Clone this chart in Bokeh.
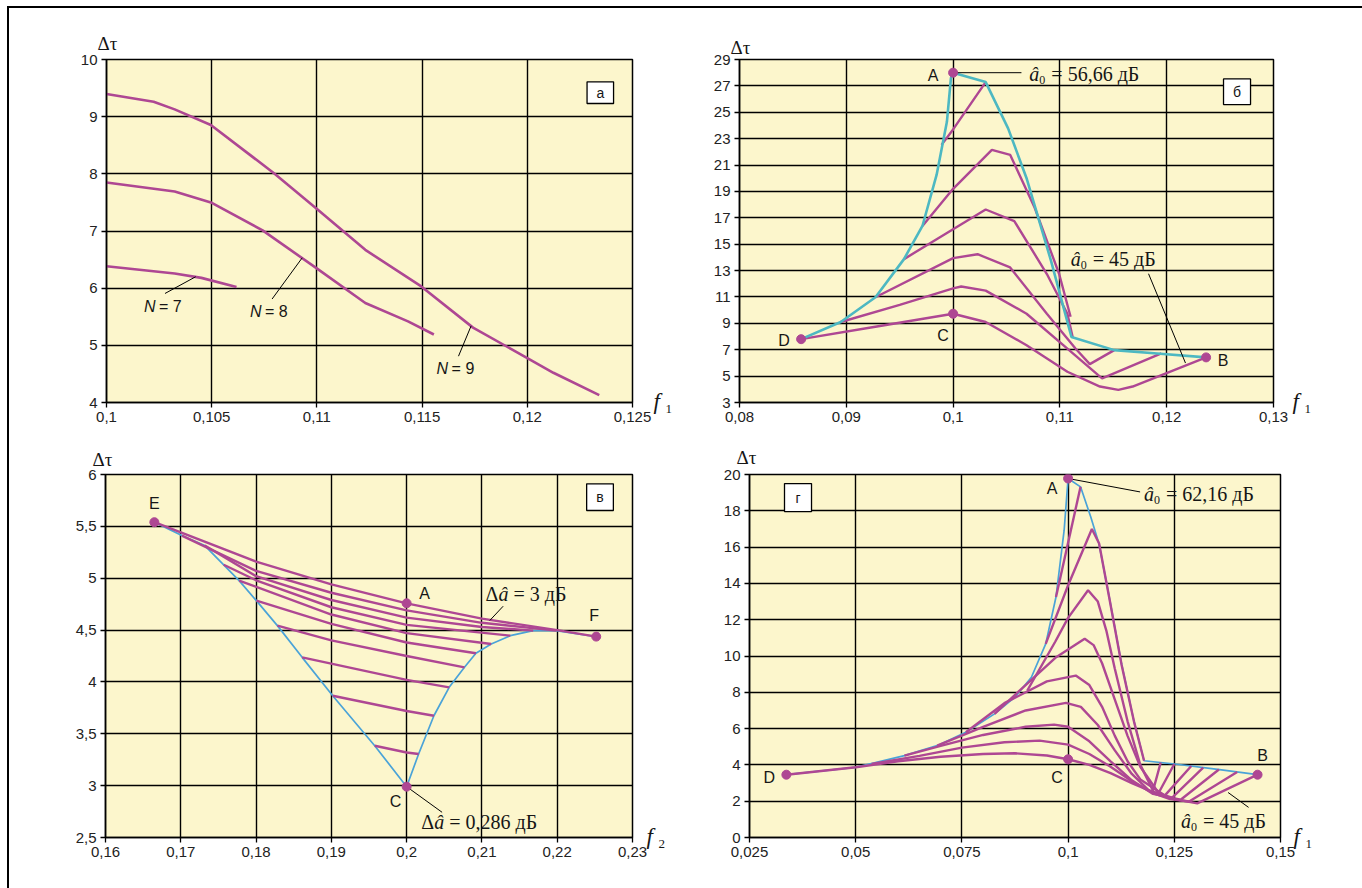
from bokeh.plotting import figure
from bokeh.models import Range1d, FixedTicker, Label
from bokeh.layouts import column, row
from bokeh.embed import file_html
from bokeh.resources import INLINE

BG = "#FCF6CC"
MAG = "#AE4793"
CYAN = "#4DB8C2"
BLUE = "#4AA3D8"
SANS = "Liberation Sans"
SERIF = "Liberation Serif"
INK = "#161616"

# ---------------- panel а ----------------
a_xticks = [0.1, 0.105, 0.11, 0.115, 0.12, 0.125]
a_xlabels = ["0,1", "0,105", "0,11", "0,115", "0,12", "0,125"]
a_yticks = [4, 5, 6, 7, 8, 9, 10]
a_ylabels = ["4", "5", "6", "7", "8", "9", "10"]
a_n9_x = [0.1, 0.10224, 0.10324, 0.10496, 0.10796, 0.10996, 0.1123, 0.11496, 0.11742, 0.11996, 0.12124, 0.12342]
a_n9_y = [9.395, 9.262, 9.128, 8.855, 8.01, 7.40, 6.67, 6.03, 5.31, 4.785, 4.52, 4.13]
a_n8_x = [0.1, 0.10324, 0.10496, 0.10742, 0.10996, 0.1123, 0.11433, 0.11556]
a_n8_y = [7.849, 7.69, 7.5, 7.01, 6.355, 5.74, 5.42, 5.19]
a_n7_x = [0.1, 0.10324, 0.10451, 0.10618]
a_n7_y = [6.384, 6.256, 6.18, 6.02]
a_lab_text = ["7", "8", "9"]
a_lab_x = [0.10178, 0.10682, 0.11569]
a_lab_y = [5.674, 5.587, 4.599]
a_lead_xs = [[0.10278, 0.10424], [0.10787, 0.1093], [0.11673, 0.11733]]
a_lead_ys = [[5.907, 6.2], [5.81, 6.53], [4.81, 5.34]]
a_box = [0.12284, 0.1241, 9.23, 9.61]

# ---------------- panel б ----------------
b_xticks = [0.08, 0.09, 0.1, 0.11, 0.12, 0.13]
b_xlabels = ["0,08", "0,09", "0,1", "0,11", "0,12", "0,13"]
b_yticks = [3, 5, 7, 9, 11, 13, 15, 17, 19, 21, 23, 25, 27, 29]
b_ylabels = [str(v) for v in b_yticks]
b_env_x = [0.08577, 0.08948, 0.09273, 0.0954, 0.09713, 0.09846, 0.09942, 0.0998, 0.1,
           0.10305, 0.10515, 0.10687, 0.10917, 0.11108, 0.11509, 0.1191, 0.12369]
b_env_y = [7.8, 9.1, 10.98, 13.87, 16.38, 20.27, 24.28, 27.6, 28.0,
           27.29, 23.78, 20.02, 13.74, 7.97, 6.97, 6.72, 6.42]
b_curves_x = [
    [0.08577, 0.093, 0.1, 0.10305, 0.10688, 0.1107, 0.11375, 0.11547, 0.11681, 0.12369],
    [0.08948, 0.095, 0.1, 0.10076, 0.10305, 0.10688, 0.1107, 0.11356, 0.11395, 0.1195],
    [0.09273, 0.1, 0.10229, 0.10534, 0.10878, 0.11146, 0.1128, 0.11509],
    [0.0954, 0.1, 0.10305, 0.10573, 0.10878, 0.1107, 0.1112],
    [0.09713, 0.1, 0.10363, 0.10535, 0.10764, 0.10993, 0.111],
    [0.09892, 0.1, 0.10305],
]
b_curves_y = [
    [7.8, 8.78, 9.73, 9.1, 7.34, 5.33, 4.21, 3.96, 4.21, 6.42],
    [9.1, 10.4, 11.65, 11.79, 11.48, 9.73, 7.09, 5.09, 4.83, 6.72],
    [10.98, 13.94, 14.24, 13.24, 9.73, 7.09, 5.91, 6.97],
    [13.87, 16.13, 17.63, 16.75, 12.74, 9.73, 7.95],
    [16.38, 19.2, 22.15, 21.77, 17.76, 12.74, 9.5],
    [22.53, 23.7, 27.29],
]
b_pt_name = ["A", "B", "C", "D"]
b_pt_x = [0.1, 0.12369, 0.1, 0.08577]
b_pt_y = [28.0, 6.42, 9.73, 7.8]
b_pt_dx = [-20, 17, -10, -17]
b_pt_dy = [-3, -3, -22, -1]
b_lead_xs = [[0.1, 0.1064], [0.1183, 0.12176]]
b_lead_ys = [[28.0, 28.0], [12.76, 5.99]]
b_ann = [("56,66", 0.10714, 27.93), ("45", 0.11102, 13.91)]
b_box = [0.12532, 0.12785, 25.58, 27.53]

# ---------------- panel в ----------------
c_xticks = [0.16, 0.17, 0.18, 0.19, 0.2, 0.21, 0.22, 0.23]
c_xlabels = ["0,16", "0,17", "0,18", "0,19", "0,2", "0,21", "0,22", "0,23"]
c_yticks = [2.5, 3, 3.5, 4, 4.5, 5, 5.5, 6]
c_ylabels = ["2,5", "3", "3,5", "4", "4,5", "5", "5,5", "6"]
c_env_x = [0.16649, 0.17014, 0.17319, 0.17775, 0.18004, 0.18283, 0.18612, 0.19018, 0.19576, 0.2,
           0.20159, 0.20362, 0.20565, 0.20768, 0.2092, 0.21123, 0.21377, 0.21681, 0.21986, 0.22518]
c_env_y = [5.54, 5.411, 5.315, 4.977, 4.784, 4.543, 4.237, 3.867, 3.385, 2.99,
           3.305, 3.674, 3.948, 4.141, 4.276, 4.366, 4.446, 4.495, 4.495, 4.437]
c_hatch_x = [
    [0.16649, 0.18, 0.19, 0.2, 0.21, 0.22, 0.22518],
    [0.17014, 0.18, 0.19, 0.2, 0.21, 0.21986],
    [0.17319, 0.18, 0.19, 0.2, 0.21, 0.21681],
    [0.1757, 0.18, 0.19, 0.2, 0.21377],
    [0.17775, 0.19, 0.2, 0.21123],
    [0.18004, 0.19, 0.2, 0.2092],
    [0.18283, 0.19, 0.2, 0.20768],
    [0.18612, 0.2, 0.20565],
    [0.19018, 0.2, 0.20362],
    [0.19576, 0.2, 0.20159],
]
c_hatch_y = [
    [5.54, 5.16, 4.94, 4.758, 4.61, 4.5, 4.437],
    [5.411, 5.07, 4.86, 4.69, 4.57, 4.495],
    [5.315, 5.02, 4.79, 4.62, 4.53, 4.495],
    [5.13, 4.98, 4.72, 4.55, 4.446],
    [4.977, 4.65, 4.47, 4.366],
    [4.784, 4.56, 4.38, 4.276],
    [4.543, 4.40, 4.25, 4.141],
    [4.237, 4.02, 3.948],
    [3.867, 3.72, 3.674],
    [3.385, 3.32, 3.305],
]
c_pt_name = ["E", "A", "F", "C"]
c_pt_x = [0.16649, 0.2, 0.22518, 0.2]
c_pt_y = [5.54, 4.758, 4.437, 2.99]
c_pt_dx = [0, 18, -2, -11]
c_pt_dy = [19, 10, 21, -15]
c_lead_xs = [[0.21105, 0.21282], [0.2, 0.20471]]
c_lead_ys = [[4.593, 4.73], [2.99, 2.743]]
c_ann = [("3", 0.21047, 4.848), ("0,286", 0.20193, 2.647)]
c_box = [0.22391, 0.22746, 5.653, 5.91]

# ---------------- panel г ----------------
d_xticks = [0.025, 0.05, 0.075, 0.1, 0.125, 0.15]
d_xlabels = ["0,025", "0,05", "0,075", "0,1", "0,125", "0,15"]
d_yticks = [0, 2, 4, 6, 8, 10, 12, 14, 16, 18, 20]
d_ylabels = [str(v) for v in d_yticks]
d_env_x = [0.03368, 0.04988, 0.06146, 0.06917, 0.07593, 0.08268, 0.0875, 0.09136, 0.09473, 0.09715,
           0.09907, 0.1, 0.10293, 0.10534, 0.10727, 0.10968, 0.11258, 0.11547, 0.11788, 0.12512,
           0.13476, 0.1446]
d_env_y = [3.46, 3.86, 4.51, 5.06, 5.8, 6.81, 7.73, 8.83, 10.67, 13.25,
           16.93, 19.78, 19.32, 17.66, 16.19, 13.25, 9.57, 6.44, 4.23, 4.05,
           3.77, 3.46]
d_curves_x = [
    [0.03368, 0.05, 0.06, 0.07, 0.08, 0.0875, 0.095, 0.1, 0.105, 0.11, 0.115, 0.12, 0.125, 0.1304, 0.1446],
    [0.05374, 0.065, 0.075, 0.085, 0.0933, 0.1, 0.105, 0.11, 0.115, 0.12, 0.124, 0.1285, 0.1398],
    [0.06146, 0.07, 0.08, 0.09, 0.0967, 0.1, 0.105, 0.11, 0.115, 0.12, 0.1265, 0.1355],
    [0.06917, 0.08, 0.09, 0.0995, 0.103, 0.107, 0.111, 0.115, 0.119, 0.1245, 0.1318],
    [0.07593, 0.085, 0.095, 0.1018, 0.105, 0.108, 0.111, 0.114, 0.117, 0.1228, 0.129],
    [0.08268, 0.09, 0.097, 0.1039, 0.106, 0.108, 0.111, 0.114, 0.117, 0.1213, 0.125],
    [0.0904, 0.097, 0.1, 0.1047, 0.107, 0.109, 0.111, 0.114, 0.117, 0.12, 0.1218],
    [0.09473, 0.1, 0.1056, 0.1073, 0.1097, 0.1126, 0.1155, 0.11788],
    [0.09715, 0.10293],
]
d_curves_y = [
    [3.46, 3.87, 4.2, 4.45, 4.6, 4.64, 4.52, 4.31, 4.0, 3.55, 3.0, 2.5, 2.12, 1.88, 3.46],
    [4.05, 4.5, 4.95, 5.25, 5.34, 5.12, 4.6, 3.9, 3.1, 2.45, 2.12, 1.98, 3.61],
    [4.51, 5.05, 5.65, 6.1, 6.22, 6.1, 5.3, 4.2, 3.15, 2.4, 2.08, 3.75],
    [5.06, 6.1, 7.0, 7.42, 7.2, 6.2, 4.8, 3.5, 2.6, 2.2, 3.85],
    [5.8, 7.4, 8.6, 8.92, 8.4, 7.2, 5.6, 4.2, 3.2, 2.32, 3.94],
    [6.81, 8.4, 9.9, 10.95, 10.6, 9.6, 7.6, 5.6, 3.9, 2.45, 4.05],
    [8.1, 10.8, 12.1, 13.62, 13.0, 11.4, 9.3, 6.4, 4.0, 2.58, 4.13],
    [10.67, 13.9, 17.0, 16.2, 13.2, 9.5, 6.4, 4.23],
    [13.25, 19.32],
]
d_pt_name = ["A", "B", "C", "D"]
d_pt_x = [0.1, 0.1446, 0.1, 0.03368]
d_pt_y = [19.78, 3.46, 4.31, 3.46]
d_pt_dx = [-16, 5, -11, -17]
d_pt_dy = [-10, 19, -18, -3]
d_lead_xs = [[0.1, 0.11695], [0.13766, 0.14248]]
d_lead_ys = [[19.78, 19.04], [2.48, 1.66]]
d_ann = [("62,16", 0.11788, 18.95), ("45", 0.12656, 0.92)]
d_box = [0.03324, 0.0396, 17.96, 19.5]


def make_panel(xr, yr, xt, xl, yt, yl, w, h, bl, br, bt, bb):
    p = figure(width=w, height=h, x_range=Range1d(*xr), y_range=Range1d(*yr),
               min_border_left=bl, min_border_right=br, min_border_top=bt, min_border_bottom=bb,
               output_backend="svg", toolbar_location=None, background_fill_color=BG,
               border_fill_color=None, outline_line_color="black", outline_line_width=1.5)
    for ax, ticks, labels in ((p.xaxis[0], xt, xl), (p.yaxis[0], yt, yl)):
        ax.ticker = FixedTicker(ticks=ticks)
        ax.major_label_overrides = dict(zip(ticks, labels))
        ax.axis_line_color = "black"
        ax.axis_line_width = 1.5
        ax.major_tick_line_color = "black"
        ax.major_tick_line_width = 1.3
        ax.major_tick_in = 0
        ax.major_tick_out = 5
        ax.minor_tick_line_color = None
        ax.major_label_text_font = SANS
        ax.major_label_text_font_size = "15px"
        ax.major_label_text_color = "#222222"
        ax.major_label_standoff = 4
    p.xgrid.ticker = FixedTicker(ticks=xt)
    p.ygrid.ticker = FixedTicker(ticks=yt)
    p.grid.grid_line_color = "black"
    p.grid.grid_line_width = 1.4
    p.grid.grid_line_alpha = 1.0
    return p


def lab(p, x, y, text, font=SANS, size=16, style="normal", dx=0, dy=0, align="center"):
    p.add_layout(Label(x=x, y=y, text=text, text_font=font, text_font_size=f"{size}px",
                       text_font_style=style, x_offset=dx, y_offset=dy, text_align=align,
                       text_baseline="middle", text_color=INK))


def side_lab(p, side, x, y, text, font=SERIF, size=17, style="normal", align="center"):
    # screen coordinates relative to the side panel next to the frame
    p.add_layout(Label(x=x, y=y, x_units="screen", y_units="screen", text=text,
                       text_font=font, text_font_size=f"{size}px", text_font_style=style,
                       text_align=align, text_baseline="middle", text_color=INK), side)


def axis_titles(p, xsym, fx_dx, dt_dx, dt_dy):
    side_lab(p, "above", dt_dx, dt_dy, "Δτ", size=19)
    side_lab(p, "right", fx_dx, 1, "f", size=23, style="italic", align="left")
    side_lab(p, "right", fx_dx + 6, -6, xsym, size=13, align="left")


def boxed(p, box, letter):
    p.quad(left=[box[0]], right=[box[1]], bottom=[box[2]], top=[box[3]],
           fill_color="white", line_color="black", line_width=1.3)
    lab(p, (box[0] + box[1]) / 2, (box[2] + box[3]) / 2, letter, size=14)


def a0_note(p, value, x, y):
    lab(p, x, y, "â", font=SERIF, size=20, style="italic", align="left")
    lab(p, x, y, "0", font=SERIF, size=12, dx=10, dy=-6, align="left")
    lab(p, x, y, "= " + value + " дБ", font=SERIF, size=20, dx=22, align="left")


def da_note(p, value, x, y):
    lab(p, x, y, "Δ", font=SERIF, size=20, align="left")
    lab(p, x, y, "â", font=SERIF, size=20, style="italic", dx=13, align="left")
    lab(p, x, y, "= " + value + " дБ", font=SERIF, size=20, dx=28, align="left")


def points(p, names, xs, ys, dxs, dys):
    p.scatter(xs, ys, size=9, color=MAG)
    for n, x, y, dx, dy in zip(names, xs, ys, dxs, dys):
        lab(p, x, y, n, size=16, dx=dx, dy=dy)


# ---- panel а
pa = make_panel((0.1, 0.125), (4, 10), a_xticks, a_xlabels, a_yticks, a_ylabels,
                690, 440, 106, 58, 59, 38)
for xs, ys in ((a_n9_x, a_n9_y), (a_n8_x, a_n8_y), (a_n7_x, a_n7_y)):
    pa.line(xs, ys, line_color=MAG, line_width=2.6)
pa.multi_line(a_lead_xs, a_lead_ys, line_color="black", line_width=1)
for t, x, y in zip(a_lab_text, a_lab_x, a_lab_y):
    lab(pa, x, y, "N", size=16, style="italic", align="left")
    lab(pa, x, y, "= " + t, size=16, dx=15, align="left")
boxed(pa, a_box, "а")
axis_titles(pa, "1", 21, 1, 16)

# ---- panel б
pb = make_panel((0.08, 0.13), (3, 29), b_xticks, b_xlabels, b_yticks, b_ylabels,
                672, 440, 49, 89, 57, 38)
pb.multi_line(b_curves_x, b_curves_y, line_color=MAG, line_width=2.4)
pb.line(b_env_x, b_env_y, line_color=CYAN, line_width=2.6)
pb.multi_line(b_lead_xs, b_lead_ys, line_color="black", line_width=1)
points(pb, b_pt_name, b_pt_x, b_pt_y, b_pt_dx, b_pt_dy)
for v, x, y in b_ann:
    a0_note(pb, v, x, y)
boxed(pb, b_box, "б")
axis_titles(pb, "1", 19, 1, 12)

# ---- panel в
pc = make_panel((0.16, 0.23), (2.5, 6), c_xticks, c_xlabels, c_yticks, c_ylabels,
                690, 448, 105, 58, 33, 51)
pc.line(c_env_x, c_env_y, line_color=BLUE, line_width=1.7)
pc.multi_line(c_hatch_x, c_hatch_y, line_color=MAG, line_width=2.4)
pc.multi_line(c_lead_xs, c_lead_ys, line_color="black", line_width=1)
points(pc, c_pt_name, c_pt_x, c_pt_y, c_pt_dx, c_pt_dy)
for v, x, y in c_ann:
    da_note(pc, v, x, y)
boxed(pc, c_box, "в")
axis_titles(pc, "2", 14, -3, 15)

# ---- panel г
pd_ = make_panel((0.025, 0.15), (0, 20), d_xticks, d_xlabels, d_yticks, d_ylabels,
                 672, 448, 59, 82, 34, 51)
pd_.line(d_env_x, d_env_y, line_color=BLUE, line_width=1.7)
pd_.multi_line(d_curves_x, d_curves_y, line_color=MAG, line_width=2.4)
pd_.multi_line(d_lead_xs, d_lead_ys, line_color="black", line_width=1)
points(pd_, d_pt_name, d_pt_x, d_pt_y, d_pt_dx, d_pt_dy)
for v, x, y in d_ann:
    a0_note(pd_, v, x, y)
boxed(pd_, d_box, "г")
axis_titles(pd_, "1", 13, -3, 17)

# page frame: only the top and left rules fall inside the picture
layout = column(row(pa, pb), row(pc, pd_),
                styles={"background-color": "white",
                        "background-image": "linear-gradient(#000, #000), linear-gradient(#000, #000)",
                        "background-repeat": "no-repeat",
                        "background-position": "7px 6px, 7px 6px",
                        "background-size": "calc(100% - 7px) 2px, 2px calc(100% - 6px)"})

open("out.html", "w").write(file_html(layout, INLINE))
